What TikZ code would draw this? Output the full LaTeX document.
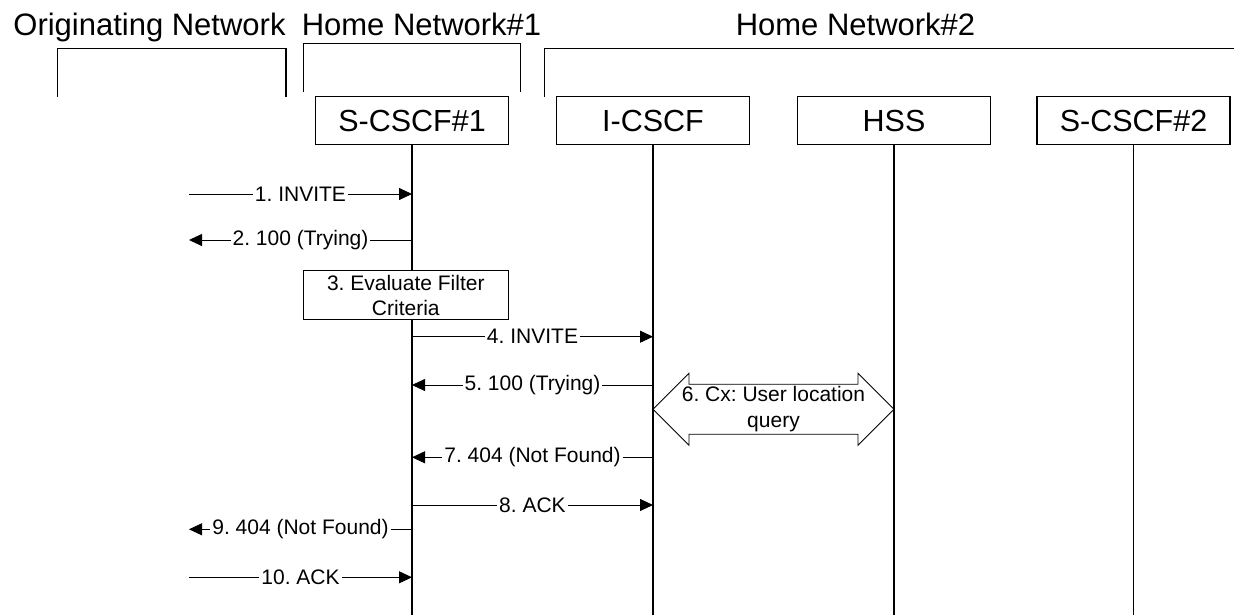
\documentclass[tikz,border=0pt]{standalone}
\usepackage{fontspec}
\setmainfont{Liberation Sans}
\usetikzlibrary{arrows.meta,calc}
\frenchspacing

\begin{document}
\begin{tikzpicture}[x=1pt,y=-1pt,
  ent/.style={draw,line width=1.2pt,fill=white,minimum width=193pt,minimum height=47.6pt,
              inner sep=0pt,font=\fontsize{30.5}{36}\selectfont,text height=22pt,text depth=0pt},
  head/.style={anchor=base,inner sep=0pt,font=\fontsize{31}{36}\selectfont},
  life/.style={line width=1.3pt},
  brace/.style={line width=1.3pt},
  msg/.style={line width=0.8pt,-{Triangle[length=13pt,width=12pt]}},
  lbl/.style={fill=white,inner sep=2pt,font=\fontsize{21}{25}\selectfont},
  note/.style={draw,line width=1.2pt,fill=white,align=center,minimum width=205pt,
               minimum height=48.3pt,inner sep=0pt,font=\fontsize{21}{25}\selectfont}]
\useasboundingbox (0,0) rectangle (1234,615);

% network headers
\node[head] (orignet) at (149.5,36) {Originating Network};
\node[head] (home1) at (421.5,36) {Home Network\#1};
\node[head] (home2) at (855.5,36) {Home Network\#2};
\draw[brace] (57.3,96.7) |- (286,48.3) -- (286,96.7);
\draw[brace] (303.3,92.3) |- (520.7,43.3) -- (520.7,92.3);
\draw[brace] (544.3,96.7) |- (1234,48.3);

% entities and lifelines
\node[ent] (sc1) at (412,120.5) {S-CSCF\#1};
\node[ent] (icscf) at (653,120.5) {I-CSCF};
\node[ent] (hss) at (894,120.5) {HSS};
\node[ent] (sc2) at (1133.5,120.5) {S-CSCF\#2};
\foreach \n in {sc1,icscf,hss,sc2}
  \draw[life] (\n.south) -- (\n |- 0,615);

\coordinate (orig) at (189,0);

% messages
\foreach \a/\b/\yy/\txt in {orig/sc1/194/{1. INVITE},
    sc1/orig/240/{2. 100 (Trying)},
    sc1/icscf/336.7/{4. INVITE},
    icscf/sc1/385/{5. 100 (Trying)},
    icscf/sc1/457.3/{7. 404 (Not Found)},
    sc1/icscf/505/{8. ACK},
    sc1/orig/529.3/{9. 404 (Not Found)},
    orig/sc1/577.3/{10. ACK}}
  \draw[msg] (\a |- 0,\yy) -- node[lbl] {\txt} (\b |- 0,\yy);

\node[note] (eval) at (405.8,295) {3. Evaluate Filter\\Criteria};

% Cx query
\coordinate (cxl) at (icscf |- 0,409.3);
\coordinate (cxr) at (hss |- 0,409.3);
\draw[line width=0.8pt] (cxl) -- ++(36,-36) -- ++(0,11) -- ($(cxr)+(-36,-25)$) -- ++(0,-11)
  -- (cxr) -- ++(-36,36) -- ++(0,-11) -- ($(cxl)+(36,25)$) -- ++(0,11) -- cycle;
\node[align=center,font=\fontsize{21}{26}\selectfont] (cxq) at ($(cxl)!0.5!(cxr)$)
  {6. Cx: User location\\query};
\end{tikzpicture}
\end{document}
